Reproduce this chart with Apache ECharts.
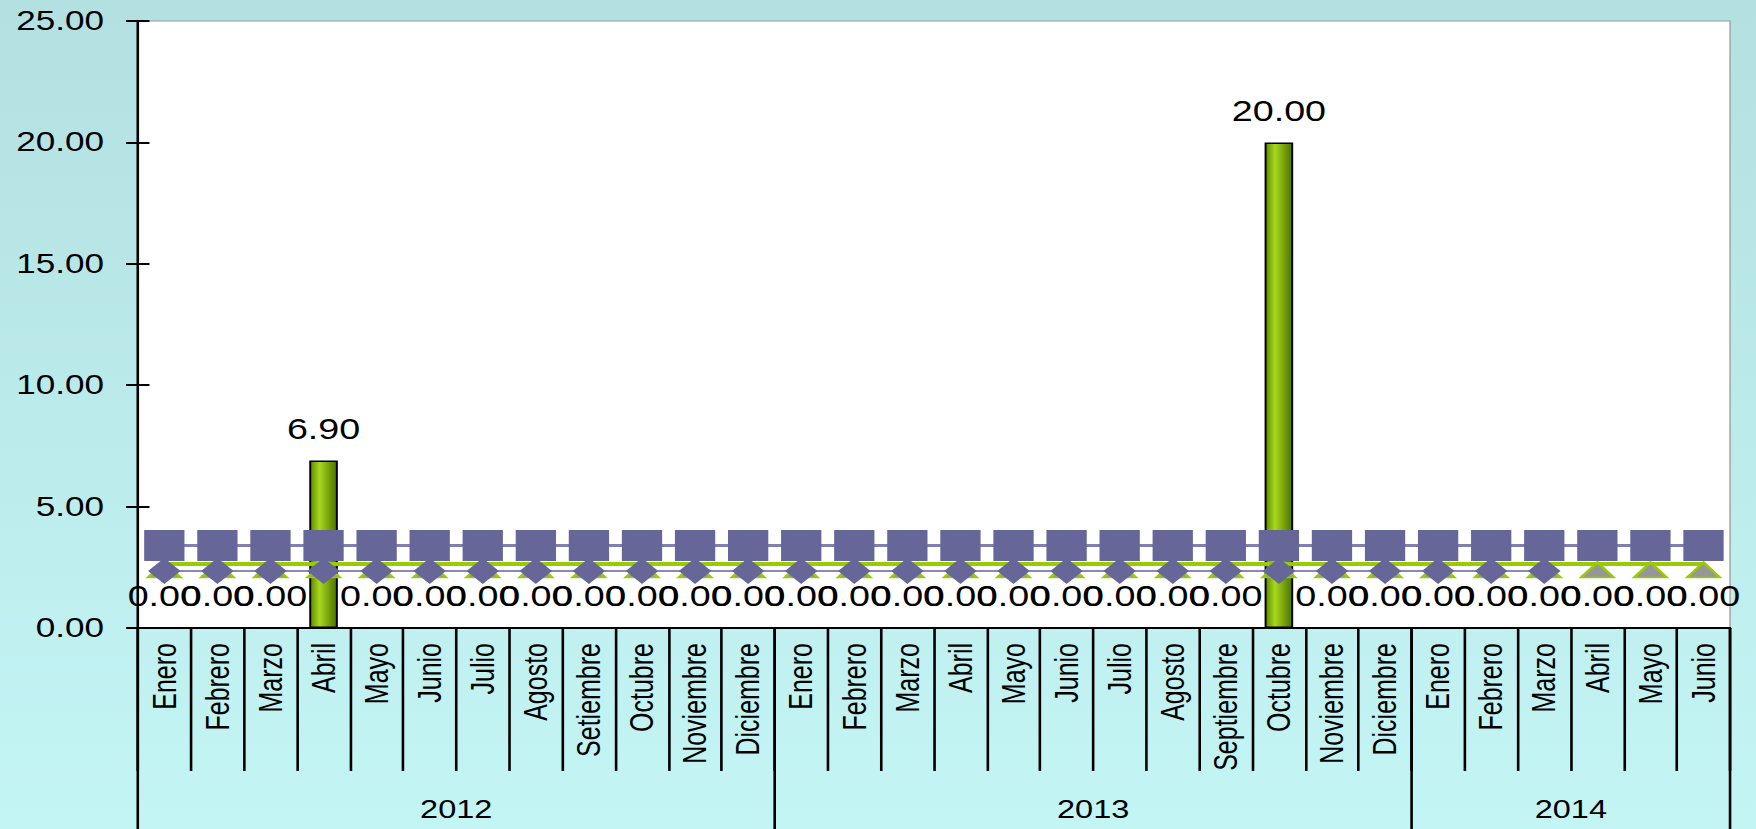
<!DOCTYPE html>
<html>
<head>
<meta charset="utf-8">
<script src="https://cdn.jsdelivr.net/npm/echarts@6/dist/echarts.min.js"></script>
<style>
  html, body { margin: 0; padding: 0; width: 1756px; height: 829px; overflow: hidden; }
  body { background: linear-gradient(#b3e0e1, #c4f5f5); }
  /* the reference is drawn wide: build the chart narrower and stretch it */
  #chart { width: 1351px; height: 829px; transform: scaleX(1.2998); transform-origin: 0 0; }
</style>
</head>
<body>
<div id="chart"></div>
<script>
const months = [
  'Enero', 'Febrero', 'Marzo', 'Abril', 'Mayo', 'Junio', 'Julio', 'Agosto', 'Setiembre', 'Octubre', 'Noviembre', 'Diciembre',
  'Enero', 'Febrero', 'Marzo', 'Abril', 'Mayo', 'Junio', 'Julio', 'Agosto', 'Septiembre', 'Octubre', 'Noviembre', 'Diciembre',
  'Enero', 'Febrero', 'Marzo', 'Abril', 'Mayo', 'Junio'
]
const years = ['2012', '2013', '2014']
const yearBounds = [0, 12, 24, 30]
const yearCenters = [6, 18, 27]

const barValues = [
  0, 0, 0, 6.90, 0, 0, 0, 0, 0, 0, 0, 0,
  0, 0, 0, 0, 0, 0, 0, 0, 0, 20.00, 0, 0,
  0, 0, 0, 0, 0, 0
]
const squareLine = [
  3.4, 3.4, 3.4, 3.4, 3.4, 3.4, 3.4, 3.4, 3.4, 3.4, 3.4, 3.4,
  3.4, 3.4, 3.4, 3.4, 3.4, 3.4, 3.4, 3.4, 3.4, 3.4, 3.4, 3.4,
  3.4, 3.4, 3.4, 3.4, 3.4, 3.4
]
const diamondLine = [
  2.35, 2.35, 2.35, 2.35, 2.35, 2.35, 2.35, 2.35, 2.35, 2.35, 2.35, 2.35,
  2.35, 2.35, 2.35, 2.35, 2.35, 2.35, 2.35, 2.35, 2.35, 2.35, 2.35, 2.35,
  2.35, 2.35, 2.35, null, null, null
]
const triangleLine = [
  2.64, 2.64, 2.64, 2.64, 2.64, 2.64, 2.64, 2.64, 2.64, 2.64, 2.64, 2.64,
  2.64, 2.64, 2.64, 2.64, 2.64, 2.64, 2.64, 2.64, 2.64, 2.64, 2.64, 2.64,
  2.64, 2.64, 2.64, 2.64, 2.64, 2.64
]

const FONT = '"Liberation Sans", Arial, sans-serif'

const chart = echarts.init(document.getElementById('chart'), null, { renderer: 'svg' })

const yBase = {
  type: 'value',
  min: 0,
  max: 25,
  interval: 5,
  splitLine: { show: false },
}

const option = {
  animation: false,
  backgroundColor: 'transparent',
  grid: {
    left: 106, right: 20, top: 21, bottom: 201,
    show: true,
    backgroundColor: '#ffffff',
    borderColor: '#9a9a9a',
    borderWidth: 1,
  },
  xAxis: [
    {
      type: 'category',
      data: months,
      position: 'bottom',
      axisLine: { show: true, lineStyle: { color: '#000', width: 2 } },
      axisTick: { show: true, interval: 0, length: 143, lineStyle: { color: '#000', width: 2 } },
      axisLabel: {
        interval: 0, rotate: 90, margin: 15,
        fontSize: 25, color: '#000', fontFamily: FONT,
      },
    },
    {
      type: 'value',
      min: 0,
      max: 30,
      position: 'bottom',
      splitLine: { show: false },
      axisLine: { show: false },
      axisTick: { show: true, customValues: yearBounds, length: 210, lineStyle: { color: '#000', width: 2 } },
      axisLabel: {
        customValues: yearCenters,
        margin: 169,
        fontSize: 25, color: '#000', fontFamily: FONT,
        formatter: (v) => years[yearCenters.indexOf(v)] || '',
      },
    },
  ],
  yAxis: [
    {
      ...yBase,
      axisLine: { show: true, lineStyle: { color: '#000', width: 2 } },
      axisTick: { show: true, length: 9, lineStyle: { color: '#000', width: 2 } },
      axisLabel: {
        margin: 26, fontSize: 27, color: '#000', fontFamily: FONT,
        formatter: (v) => v.toFixed(2),
      },
    },
    {
      ...yBase,
      position: 'left',
      axisLine: { show: false },
      axisTick: { show: true, inside: true, length: 9, lineStyle: { color: '#000', width: 2 } },
      axisLabel: { show: false },
    },
  ],
  series: [
    {
      type: 'bar',
      data: barValues,
      barWidth: 22,
      itemStyle: {
        color: new echarts.graphic.LinearGradient(0, 0, 1, 0, [
          { offset: 0, color: '#5b8a00' },
          { offset: 0.35, color: '#a8d81c' },
          { offset: 1, color: '#4c7200' },
        ]),
        borderColor: '#000',
        borderWidth: 1.5,
      },
      label: {
        show: true,
        position: 'top',
        distance: 17,
        fontSize: 29,
        color: '#000',
        fontFamily: FONT,
        formatter: (p) => p.value.toFixed(2),
      },
    },
    {
      type: 'line',
      data: triangleLine,
      symbol: 'triangle',
      symbolSize: [25, 15],
      symbolOffset: [0, 6],
      lineStyle: { color: '#99cc00', width: 4 },
      itemStyle: { color: '#969696', borderColor: '#99cc00', borderWidth: 2 },
    },
    {
      type: 'line',
      data: diamondLine,
      symbol: 'diamond',
      symbolSize: [25, 26],
      lineStyle: { color: '#8888bb', width: 2 },
      itemStyle: { color: '#666699' },
    },
    {
      type: 'line',
      data: squareLine,
      symbol: 'rect',
      symbolSize: [31, 31],
      lineStyle: { color: '#8080b0', width: 3 },
      itemStyle: { color: '#666699' },
    },
  ],
}

chart.setOption(option)
</script>
</body>
</html>
